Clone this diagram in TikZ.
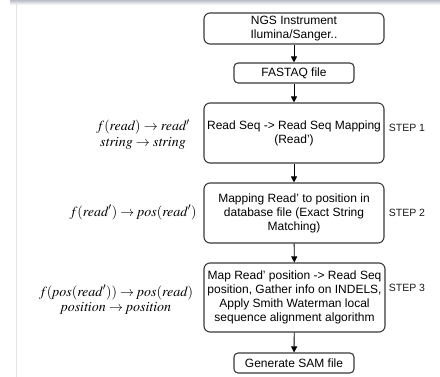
\documentclass[tikz,border=0pt]{standalone}
\usepackage{mathptmx}
\usepackage{fontspec}
\setmainfont{Liberation Sans}
\usetikzlibrary{arrows.meta}
\definecolor{edge}{HTML}{3A3A3A}
\definecolor{band}{HTML}{B9BEC6}
\definecolor{rule}{HTML}{E4E4E4}
\tikzset{
  x=1pt, y=1pt,
  procbox/.style={draw=edge, line width=1.1pt, rounded corners=6pt, align=center,
    inner sep=0pt, font=\fontsize{12}{14}\selectfont},
  filebox/.style={procbox, rounded corners=4pt},
  flow/.style={-{Triangle[length=6pt,width=6pt]}, line width=0.9pt, black},
  steplabel/.style={font=\fontsize{10.5}{12}\selectfont, text=black!90},
  mathlabel/.style={align=center, font=\fontsize{14}{15.5}\selectfont, inner sep=0pt}
}
\begin{document}
\begin{tikzpicture}
\useasboundingbox (0,0) rectangle (440,-377);
\fill[white] (0,0) rectangle (440,-377);
% window chrome: faint top shadow and left rule
\shade[top color=band, bottom color=white] (10,0) rectangle (440,-5);
\draw[rule, line width=1pt] (16,-3) -- (16,-377);

% pipeline boxes
\node[procbox, minimum width=180, minimum height=31] (ngs) at (294,-28.5)
  {NGS Instrument\\Ilumina/Sanger..};
\node[filebox, minimum width=120, minimum height=20] (fastq) at (294,-73)
  {FASTAQ file};
\node[procbox, minimum width=180, minimum height=60] (s1) at (294,-133)
  {Read Seq -> Read Seq Mapping\\(Read')};
\node[procbox, minimum width=180, minimum height=60] (s2) at (294,-213)
  {Mapping Read' to position in\\database file (Exact String\\Matching)};
\node[procbox, minimum width=181, minimum height=69] (s3) at (294.5,-297.5)
  {Map Read' position -> Read Seq\\position, Gather info on INDELS,\\Apply Smith Waterman local\\sequence alignment algorithm};
\node[filebox, minimum width=120, minimum height=20] (sam) at (294,-363)
  {Generate SAM file};

% connectors
\draw[flow] (ngs) -- (fastq);
\draw[flow] (fastq) -- (s1);
\draw[flow] (s1) -- (s2);
\draw[flow] (s2) -- (s3);
\draw[flow] (s3) -- (sam);

% step labels
\node[steplabel] (l1) at (407,-128) {STEP 1};
\node[steplabel] (l2) at (407,-213) {STEP 2};
\node[steplabel] (l3) at (407,-288) {STEP 3};

% function signatures
\node[mathlabel] (m1) at (143,-134.5)
  {$f(\mathit{read})\rightarrow\mathit{read}'$\\$\mathit{string}\rightarrow\mathit{string}$};
\node[mathlabel] (m2) at (133,-212.5)
  {$f(\mathit{read}')\rightarrow\mathit{pos}(\mathit{read}')$};
\node[mathlabel] (m3) at (116,-300)
  {$f(\mathit{pos}(\mathit{read}'))\rightarrow\mathit{pos}(\mathit{read})$\\$\mathit{position}\rightarrow\mathit{position}$};
\end{tikzpicture}
\end{document}
